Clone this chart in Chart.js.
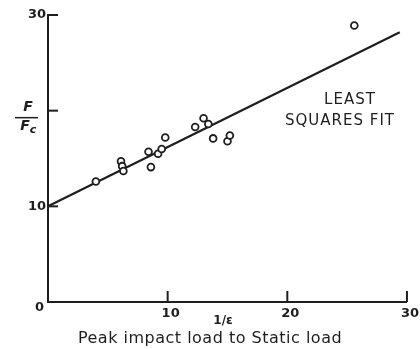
<!DOCTYPE html>
<html>
<head>
<meta charset="utf-8">
<script src="https://cdn.jsdelivr.net/npm/chart.js@4/dist/chart.umd.min.js"></script>
<style>
html,body{margin:0;padding:0;background:#fff;}
#wrap{width:420px;height:349px;}
</style>
</head>
<body>
<div id="wrap"><canvas id="c" width="420" height="349"></canvas></div>
<script>
// Data
const pointX = [4.0, 6.1, 6.2, 6.3, 8.4, 8.6, 9.2, 9.5, 9.8, 12.3, 13.0, 13.4, 13.8, 15.0, 15.2, 25.6];
const pointY = [12.6, 14.7, 14.2, 13.7, 15.7, 14.1, 15.5, 16.0, 17.2, 18.3, 19.2, 18.6, 17.1, 16.8, 17.4, 28.9];
const fitX = [0, 29.4];
const fitY = [10, 28.2];
const xTicks = [10, 20, 30];
const yTicks = [0, 10, 20, 30];
const yTickLabels = {10: '10', 30: '30'};
const originLabel = '0';
const fitLabel = ['LEAST', 'SQUARES FIT'];
const xLabelTop = '1/\u03B5';
const xLabelBottom = 'Peak impact load to Static load';

const INK = '#1e1e1e';

const scatterData = pointX.map((x, i) => ({x, y: pointY[i]}));
const fitData = fitX.map((x, i) => ({x, y: fitY[i]}));

const decorPlugin = {
  id: 'decor',
  afterDraw(chart) {
    const ctx = chart.ctx;
    const xs = chart.scales.x, ys = chart.scales.y;
    const x0 = xs.getPixelForValue(0), y0 = ys.getPixelForValue(0);
    ctx.save();
    ctx.strokeStyle = INK;
    ctx.lineWidth = 2;
    // inward ticks
    xTicks.forEach(v => {
      const px = xs.getPixelForValue(v);
      ctx.beginPath(); ctx.moveTo(px, y0); ctx.lineTo(px, y0 - 11); ctx.stroke();
    });
    yTicks.forEach(v => {
      if (v === 0) return;
      const py = ys.getPixelForValue(v);
      ctx.beginPath(); ctx.moveTo(x0, py); ctx.lineTo(x0 + 10, py); ctx.stroke();
    });
    ctx.fillStyle = INK;
    // origin label
    ctx.font = 'bold 13px "DejaVu Sans"';
    ctx.textAlign = 'right';
    ctx.textBaseline = 'middle';
    ctx.fillText(originLabel, x0 - 4, y0 + 6);
    // y label F / Fc
    const yF = ys.getPixelForValue(20);
    ctx.font = 'italic bold 14px "DejaVu Sans"';
    ctx.textAlign = 'center';
    ctx.fillText('F', 28, yF - 3);
    ctx.lineWidth = 1.5;
    ctx.beginPath(); ctx.moveTo(15, yF + 7); ctx.lineTo(38, yF + 7); ctx.stroke();
    ctx.fillText('F', 25, yF + 16);
    ctx.font = 'italic bold 11px "DejaVu Sans"';
    ctx.fillText('c', 33, yF + 19);
    // fit label
    ctx.font = '15px "DejaVu Sans"';
    ctx.letterSpacing = '1px';
    ctx.textAlign = 'center';
    ctx.fillText(fitLabel[0], 350, 100);
    ctx.fillText(fitLabel[1], 340, 121);
    // x labels
    ctx.letterSpacing = '0px';
    ctx.font = 'bold 12px "DejaVu Sans"';
    ctx.fillText(xLabelTop, 223, 321);
    ctx.font = '16px "DejaVu Sans"';
    ctx.letterSpacing = '0.5px';
    ctx.fillText(xLabelBottom, 210, 339);
    ctx.restore();
  }
};

new Chart(document.getElementById('c'), {
  type: 'scatter',
  data: {
    datasets: [
      {
        type: 'line',
        data: fitData,
        borderColor: INK,
        borderWidth: 2.2,
        pointRadius: 0,
        fill: false,
        tension: 0,
        order: 2
      },
      {
        data: scatterData,
        pointRadius: 3.4,
        pointBorderWidth: 1.8,
        pointBorderColor: INK,
        pointBackgroundColor: '#fff',
        order: 1
      }
    ]
  },
  options: {
    responsive: false,
    animation: false,
    devicePixelRatio: 1,
    layout: {padding: {top: 15, right: 12, left: 0, bottom: 0}},
    plugins: {legend: {display: false}, tooltip: {enabled: false}},
    scales: {
      x: {
        type: 'linear', min: 0, max: 30,
        grid: {display: false, drawTicks: false},
        border: {display: true, color: INK, width: 2},
        afterBuildTicks: s => { s.ticks = xTicks.map(v => ({value: v})); },
        afterFit: s => { s.height = 47; },
        ticks: {
          padding: 4,
          labelOffset: 3,
          color: INK,
          font: {family: 'DejaVu Sans', size: 13, weight: 'bold'},
          maxRotation: 0,
          callback: v => String(v)
        }
      },
      y: {
        type: 'linear', min: 0, max: 30,
        grid: {display: false, drawTicks: false},
        border: {display: true, color: INK, width: 2},
        afterBuildTicks: s => { s.ticks = yTicks.map(v => ({value: v})); },
        afterFit: s => { s.width = 48; },
        ticks: {
          padding: 2,
          color: INK,
          font: {family: 'DejaVu Sans', size: 13, weight: 'bold'},
          callback: v => (yTickLabels[v] !== undefined ? yTickLabels[v] : '')
        }
      }
    }
  },
  plugins: [decorPlugin]
});
</script>
</body>
</html>
